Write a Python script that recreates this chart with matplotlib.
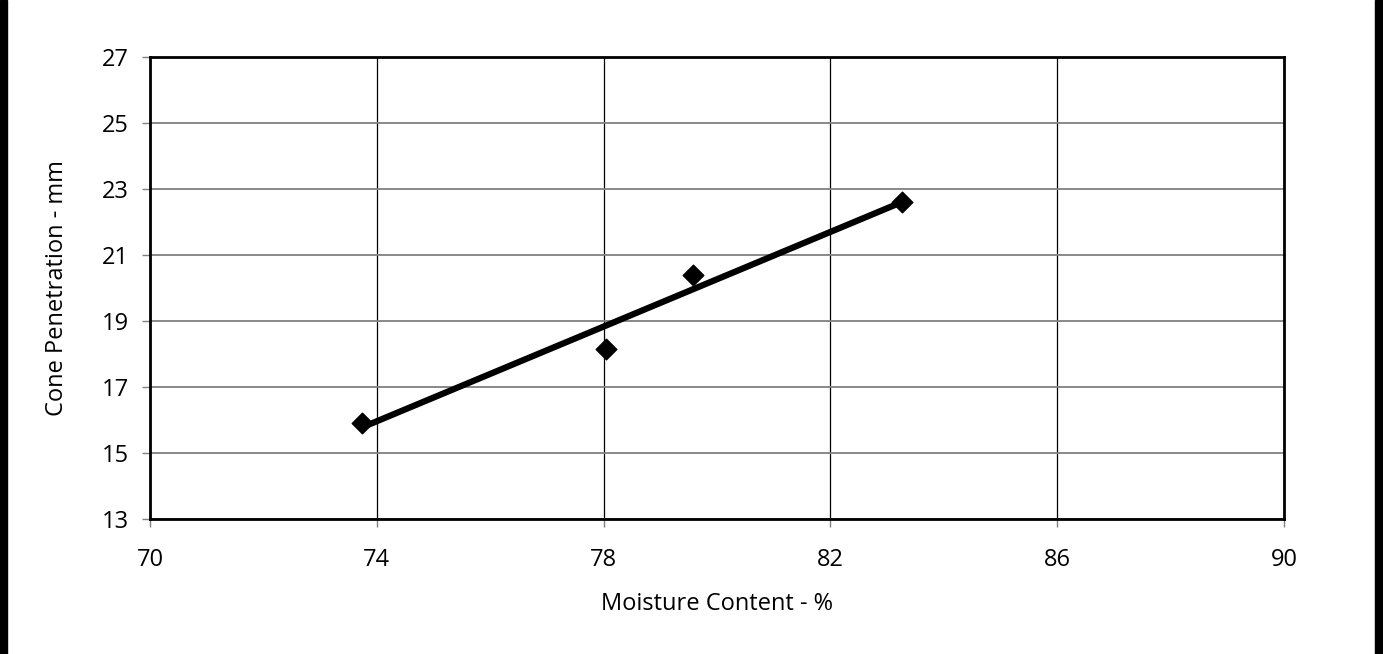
import matplotlib.pyplot as plt
from matplotlib.patches import Rectangle

# measured points
moisture = [73.74, 78.04, 79.57, 83.26]
penetration = [15.91, 18.15, 20.40, 22.62]

# best-fit line end points
fit_x = [73.76, 83.2]
fit_y = [15.79, 22.56]

x_ticks = [70, 74, 78, 82, 86, 90]
y_ticks = [13, 15, 17, 19, 21, 23, 25, 27]

plt.rcParams['font.family'] = ['Open Sans', 'DejaVu Sans']

fig = plt.figure(figsize=(13.83, 6.54), dpi=100)
ax = fig.add_axes([150 / 1383, 1 - 519 / 654, (1284 - 150) / 1383, (519 - 57) / 654])

ax.set_xlim(70, 90)
ax.set_ylim(13, 27)
ax.set_xticks(x_ticks)
ax.set_yticks(y_ticks)

ax.grid(axis='y', color='#808080', linewidth=1.3)
ax.grid(axis='x', color='black', linewidth=0.9)
ax.set_axisbelow(True)

ax.plot(fit_x, fit_y, color='black', linewidth=4.5, solid_capstyle='butt')
ax.scatter(moisture, penetration, marker='D', s=110, color='black', zorder=3)

for side in ax.spines.values():
    side.set_linewidth(2)
ax.tick_params(axis='both', labelsize=17, length=6, width=1, color='#808080')
ax.tick_params(axis='x', pad=15)
ax.tick_params(axis='y', pad=9)

ax.set_xlabel('Moisture Content - %', fontsize=17, labelpad=14)
ax.set_ylabel('Cone Penetration - mm', fontsize=17, labelpad=24)

# side bars framing the figure
fig.patches.append(Rectangle((0, 0), 7 / 1383, 1, transform=fig.transFigure, color='black'))
fig.patches.append(Rectangle((1 - 8 / 1383, 0), 8 / 1383, 1, transform=fig.transFigure, color='black'))

fig.savefig('out.png', dpi=100)
